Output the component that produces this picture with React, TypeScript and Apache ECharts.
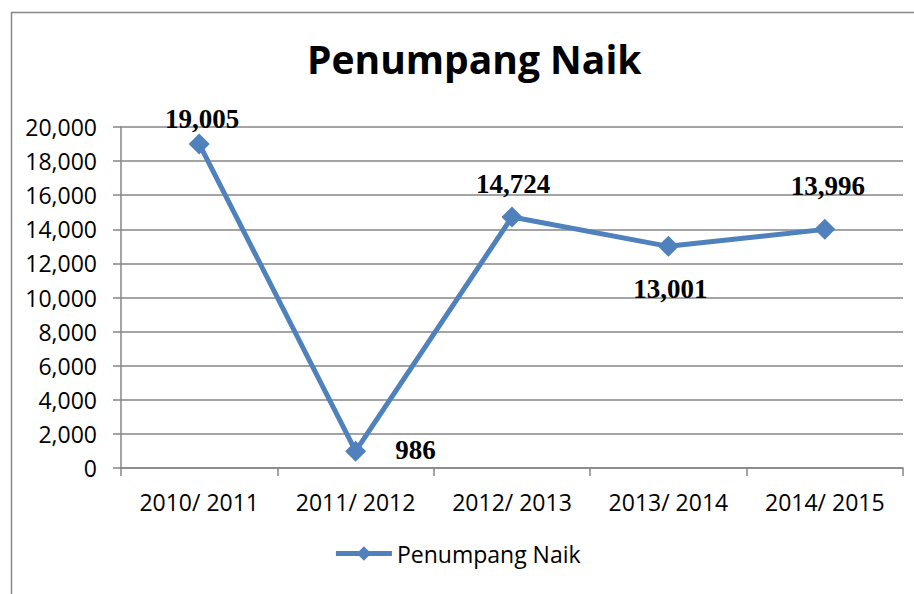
import React, { useEffect, useRef } from "react";
import * as echarts from "echarts";

const categories = ["2010/ 2011", "2011/ 2012", "2012/ 2013", "2013/ 2014", "2014/ 2015"];
const values = [19005, 986, 14724, 13001, 13996];
const labelOffsets: [number, number][] = [[3, -25], [60, -1], [1, -33], [2, 43], [3, -43]];
const yTicks = { min: 0, max: 20000, interval: 2000 };

const fmt = (v: number) => v.toLocaleString("en-US");

export default function App() {
  const ref = useRef<HTMLDivElement>(null);
  useEffect(() => {
    document.body.style.margin = "0";
    const chart = echarts.init(ref.current!, null, { renderer: "svg" });
    chart.setOption({
      animation: false,
      backgroundColor: "#fff",
      title: {
        text: "Penumpang Naik",
        left: 302,
        top: 34,
        textStyle: { fontFamily: "Open Sans", fontWeight: "bold", fontSize: 39, color: "#000" },
      },
      graphic: [
        {
          type: "rect",
          shape: { x: 11.5, y: 12.5, width: 920, height: 600 },
          style: { fill: "none", stroke: "#868686", lineWidth: 1.5 },
        },
      ],
      grid: { left: 121, right: 11, top: 127, bottom: 126 },
      legend: {
        bottom: 24,
        left: "center",
        itemWidth: 56,
        itemHeight: 18,
        itemGap: 5,
        lineStyle: { width: 5 },
        textStyle: { fontFamily: "Open Sans", fontSize: 23, color: "#000" },
        data: ["Penumpang Naik"],
      },
      xAxis: {
        type: "category",
        data: categories,
        boundaryGap: true,
        axisLine: { lineStyle: { color: "#868686", width: 1.5 } },
        axisTick: { show: true, length: 8, alignWithLabel: false, lineStyle: { color: "#868686", width: 1.5 } },
        axisLabel: { interval: 0, fontFamily: "Open Sans", fontSize: 23, color: "#000", margin: 22 },
      },
      yAxis: {
        type: "value",
        min: yTicks.min,
        max: yTicks.max,
        interval: yTicks.interval,
        axisLine: { show: true, lineStyle: { color: "#868686", width: 1.5 } },
        axisTick: { show: true, length: 8, lineStyle: { color: "#868686", width: 1.5 } },
        splitLine: { lineStyle: { color: "#868686", width: 1.5 } },
        axisLabel: { fontFamily: "Open Sans", fontSize: 23, color: "#000", margin: 24, formatter: (v: number) => fmt(v) },
      },
      series: [
        {
          name: "Penumpang Naik",
          type: "line",
          data: values.map((v, i) => ({
            value: v,
            label: { offset: labelOffsets[i] },
          })),
          symbol: "diamond",
          symbolSize: 21,
          lineStyle: { color: "#4F81BD", width: 5 },
          itemStyle: { color: "#4F81BD" },
          label: {
            show: true,
            position: "inside",
            formatter: (p: any) => fmt(p.value),
            fontFamily: "Liberation Serif",
            fontWeight: "bold",
            fontSize: 27,
            color: "#000",
          },
        },
      ],
    });
    return () => chart.dispose();
  }, []);
  return <div ref={ref} style={{ width: 914, height: 594 }} />;
}
